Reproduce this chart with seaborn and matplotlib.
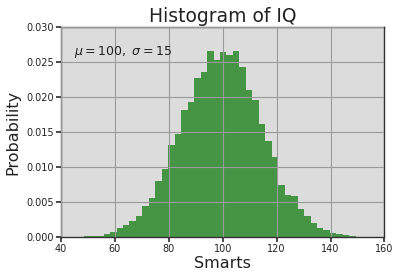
import numpy as np
import pandas as pd
import matplotlib
matplotlib.use("Agg")
import matplotlib.pyplot as plt
import seaborn as sns

# bin edges (50 bins) and density heights
bin_start = 43.8
bin_width = 2.4
heights = [0.0001, 0.0001, 0.0002, 0.0002, 0.0002, 0.0005, 0.0008, 0.0014, 0.0017, 0.0023,
           0.0031, 0.0045, 0.0056, 0.0080, 0.0098, 0.0131, 0.0147, 0.0181, 0.0192, 0.0227,
           0.0235, 0.0265, 0.0253, 0.0264, 0.0260, 0.0265, 0.0242, 0.0209, 0.0196, 0.0162,
           0.0137, 0.0114, 0.0075, 0.0061, 0.0059, 0.0041, 0.0030, 0.0021, 0.0013, 0.0011,
           0.0007, 0.0005, 0.0003, 0.0002, 0.0001, 0.0001, 0.0001, 0.0000, 0.0000, 0.0000]
x_ticks = [40, 60, 80, 100, 120, 140, 160]
y_ticks = [0.000, 0.005, 0.010, 0.015, 0.020, 0.025, 0.030]

n_bins = len(heights)
edges = bin_start + bin_width * np.arange(n_bins + 1)
centers = (edges[:-1] + edges[1:]) / 2
df = pd.DataFrame({"iq": centers, "w": heights})

sns.set_theme(style="whitegrid", rc={
    "axes.facecolor": "#dcdcdc",
    "axes.edgecolor": "#333333",
    "axes.linewidth": 1.0,
    "grid.color": "#9a9a9a",
    "grid.linewidth": 0.8,
    "xtick.bottom": True,
    "ytick.left": True,
    "xtick.color": "#333333",
    "ytick.color": "#333333",
    "xtick.major.size": 3.5,
    "ytick.major.size": 3.5,
})
plt.rcParams["font.family"] = ["DejaVu Sans"]

fig = plt.figure(figsize=(4.0, 2.79), dpi=100)
ax = fig.add_axes([0.1525, 0.149, 0.8085, 0.756])

sns.histplot(data=df, x="iq", weights="w", bins=n_bins,
             binrange=(edges[0], edges[-1]), stat="count",
             color="#0b7a0b", alpha=0.72, linewidth=0, ax=ax)

ax.set_axisbelow(False)
ax.grid(True, color="#9a9a9a", linewidth=0.8)
ax.set_xlim(40, 160)
ax.set_ylim(0, 0.03)
ax.set_xticks(x_ticks)
ax.set_yticks(y_ticks)
ax.set_xticklabels([str(t) for t in x_ticks])
ax.set_yticklabels([f"{t:.3f}" for t in y_ticks])
ax.tick_params(labelsize=7, pad=1.5, colors="#333333", labelcolor="#222222")
ax.set_xlabel("Smarts", fontsize=11.5, labelpad=1, color="#222222")
ax.set_ylabel("Probability", fontsize=11.5, labelpad=4, color="#222222")
ax.set_title("Histogram of IQ", fontsize=13.5, pad=3, color="#222222")
ax.text(45, 0.0259, r"$\mu=100,\ \sigma=15$", fontsize=9, color="#222222")
for s in ax.spines.values():
    s.set_visible(True)
    s.set_color("#333333")

fig.savefig("out.png", dpi=100)
